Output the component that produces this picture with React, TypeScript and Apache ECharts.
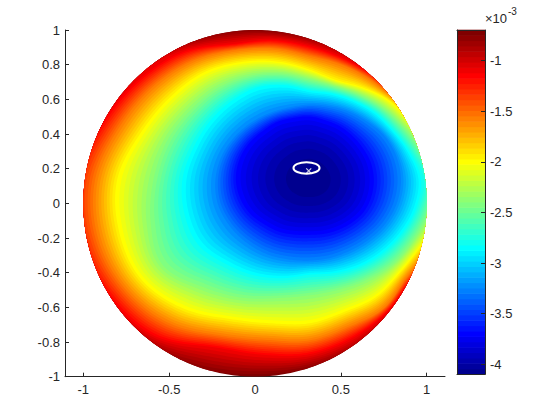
import React, { useEffect, useRef } from "react";
import * as echarts from "echarts";

// ---- axes / ticks ----
const xTicks = [-1, -0.5, 0, 0.5, 1];
const xRange = [-1.1067, 1.1067];
const yRange = [-1, 1];
const colorbarTicks = [-4, -3.5, -3, -2.5, -2, -1.5, -1];
const colorRange = [-4.1, -0.697]; // values in units of 1e-3
const bandCount = 64;

// ---- field (units of 1e-3) ----
const minPoint = [0.32, 0.14];
const minValue = -4.09;
// rays drawn out from the minimum point (degrees)
const rayAngles = [0, 15, 30, 45, 60, 75, 90, 105, 120, 135, 150, 165, 180, 195, 210, 225, 240, 255, 270, 285, 300, 315, 330, 345];
// contour levels traced along the rays
const contourLevels = [-3.68, -3.25, -2.83, -2.4, -1.98, -1.55, -1.12];
// distance from the minimum point where each level is crossed (null: not reached inside the disk)
const radiiLevelA = [0.37, 0.365, 0.355, 0.35, 0.35, 0.35, 0.36, 0.365, 0.38, 0.39, 0.41, 0.425, 0.43, 0.42, 0.4, 0.37, 0.35, 0.33, 0.32, 0.325, 0.335, 0.35, 0.365, 0.37];
const radiiLevelB = [0.53, 0.52, 0.5, 0.47, 0.45, 0.435, 0.43, 0.43, 0.445, 0.47, 0.5, 0.53, 0.55, 0.555, 0.54, 0.52, 0.5, 0.48, 0.47, 0.47, 0.475, 0.49, 0.51, 0.525];
const radiiLevelC = [0.645, 0.6, 0.56, 0.54, 0.52, 0.51, 0.51, 0.56, 0.61, 0.64, 0.67, 0.7, 0.74, 0.755, 0.75, 0.69, 0.64, 0.59, 0.55, 0.56, 0.58, 0.6, 0.62, 0.64];
const radiiLevelD = [null, null, 0.62, 0.59, 0.565, 0.555, 0.575, 0.63, 0.69, 0.75, 0.8, 0.86, 0.91, 0.96, 0.99, 0.88, 0.79, 0.71, 0.67, 0.66, 0.67, 0.69, 0.7, null];
const radiiLevelE = [null, null, null, 0.645, 0.61, 0.59, 0.63, 0.7, 0.78, 0.87, 0.94, 1.02, 1.12, 1.15, 1.14, 1.05, 0.93, 0.86, 0.83, 0.79, 0.78, 0.75, null, null];
const radiiLevelF = [null, null, null, null, 0.675, 0.685, 0.71, 0.78, 0.86, 0.965, 1.06, 1.15, 1.25, 1.28, 1.25, 1.17, 1.04, 0.96, 0.93, 0.88, 0.86, 0.8, null, null];
const radiiLevelG = [null, null, null, null, null, 0.725, 0.765, 0.83, 0.9, 1.04, 1.15, null, null, null, null, 1.28, 1.12, 1.05, 1.01, 0.95, 0.89, null, null, null];
// value where each ray meets the rim of the disk
const edgeValues = [-2.75, -2.5, -2.15, -1.7, -1.25, -1.0, -0.85, -0.75, -0.78, -0.95, -1.1, -1.15, -1.35, -1.32, -1.15, -0.95, -0.76, -0.7, -0.76, -0.92, -1.05, -1.3, -2.0, -2.5];

// ---- markers ----
const ellipseCenter = [0.3, 0.204];
const ellipseRadii = [0.076, 0.033];
const crossPoint = [0.313, 0.187];

const levelRadii = [radiiLevelA, radiiLevelB, radiiLevelC, radiiLevelD, radiiLevelE, radiiLevelF, radiiLevelG];

function jet(m: number): string[] {
  const n = Math.ceil(m / 4);
  const u: number[] = [];
  for (let i = 1; i <= n; i++) u.push(i / n);
  for (let i = 1; i <= n - 1; i++) u.push(1);
  for (let i = n; i >= 1; i--) u.push(i / n);
  const g0 = Math.ceil(n / 2) - (m % 4 === 1 ? 1 : 0);
  const J = Array.from({ length: m }, () => [0, 0, 0]);
  for (let k = 0; k < u.length; k++) {
    const gi = g0 + k + 1;
    const ri = gi + n;
    const bi = gi - n;
    if (gi >= 1 && gi <= m) J[gi - 1][1] = u[k];
    if (ri >= 1 && ri <= m) J[ri - 1][0] = u[k];
    if (bi >= 1 && bi <= m) J[bi - 1][2] = u[k];
  }
  return J.map((c) => `rgb(${Math.round(c[0] * 255)},${Math.round(c[1] * 255)},${Math.round(c[2] * 255)})`);
}

function boundaryDist(th: number): number {
  const ux = Math.cos(th), uy = Math.sin(th);
  const b = minPoint[0] * ux + minPoint[1] * uy;
  const c = minPoint[0] * minPoint[0] + minPoint[1] * minPoint[1] - 1;
  return -b + Math.sqrt(b * b - c);
}

// fraction of the way to the rim where level L is crossed on ray k
function rayFraction(k: number, L: number): number {
  const d = boundaryDist((rayAngles[k] * Math.PI) / 180);
  const kv: number[] = [minValue];
  const ks: number[] = [0];
  for (let i = 0; i < contourLevels.length; i++) {
    const r = levelRadii[i][k];
    if (r != null) {
      kv.push(contourLevels[i]);
      ks.push(Math.min((r as number) / d, 0.995));
    }
  }
  kv.push(edgeValues[k]);
  ks.push(1);
  if (L <= minValue) return 0;
  for (let i = 1; i < kv.length; i++) {
    if (L <= kv[i]) {
      const f = (L - kv[i - 1]) / (kv[i] - kv[i - 1]);
      if (i === 1) return ks[1] * Math.sqrt(f);
      return ks[i - 1] + f * (ks[i] - ks[i - 1]);
    }
  }
  const n = kv.length;
  let slope = (ks[n - 1] - ks[n - 2]) / (kv[n - 1] - kv[n - 2]);
  slope = Math.min(Math.max(slope, 0.05), 0.3);
  return 1 + (L - kv[n - 1]) * slope;
}

function levelPolygon(L: number, samples: number): number[][] {
  const nr = rayAngles.length;
  const step = 360 / nr;
  const prof = rayAngles.map((_, k) => rayFraction(k, L));
  const pts: number[][] = [];
  for (let s = 0; s < samples; s++) {
    const deg = (s * 360) / samples;
    const k1 = Math.floor(deg / step) % nr;
    const f = deg / step - Math.floor(deg / step);
    const p0 = prof[(k1 - 1 + nr) % nr], p1 = prof[k1], p2 = prof[(k1 + 1) % nr], p3 = prof[(k1 + 2) % nr];
    let q =
      0.5 *
      (2 * p1 + (-p0 + p2) * f + (2 * p0 - 5 * p1 + 4 * p2 - p3) * f * f + (-p0 + 3 * p1 - 3 * p2 + p3) * f * f * f);
    if (q > 1) q = 1;
    if (q < 0) q = 0;
    const th = (deg * Math.PI) / 180;
    const r = q * boundaryDist(th);
    pts.push([minPoint[0] + r * Math.cos(th), minPoint[1] + r * Math.sin(th)]);
  }
  return pts;
}

export default function App() {
  const ref = useRef<HTMLDivElement>(null);
  useEffect(() => {
    document.body.style.margin = "0";
    if (!ref.current) return;
    const chart = echarts.init(ref.current, null, { renderer: "svg" });
    const colors = jet(bandCount);
    const w = (colorRange[1] - colorRange[0]) / bandCount;
    const samples = 360;

    const fieldPolys: { pts: number[][]; color: string }[] = [];
    const disk: number[][] = [];
    for (let s = 0; s < samples; s++) {
      const th = (s * 2 * Math.PI) / samples;
      disk.push([Math.cos(th), Math.sin(th)]);
    }
    fieldPolys.push({ pts: disk, color: colors[bandCount - 1] });
    for (let j = bandCount - 2; j >= 0; j--) {
      const upper = colorRange[0] + (j + 1) * w;
      if (upper <= minValue) continue;
      fieldPolys.push({ pts: levelPolygon(upper, samples), color: colors[j] });
    }

    const barBands = colors.map((_, j) => [colorRange[0] + j * w, colorRange[0] + (j + 1) * w]);

    const axisColor = "#262626";
    const font = "'Liberation Sans', Arial, Helvetica, sans-serif";
    const fmt = (v: number) => String(Math.round(v * 10) / 10);
    const labelSize = 13;

    chart.setOption({
      animation: false,
      textStyle: { fontFamily: font, fontSize: labelSize },
      grid: [
        { left: 65, top: 30, width: 380, height: 346.7 },
        { left: 457, top: 30, width: 28, height: 344.3 },
      ],
      xAxis: [
        {
          gridIndex: 0,
          type: "value",
          min: xRange[0],
          max: xRange[1],
          axisLine: { show: true, onZero: false, lineStyle: { color: axisColor, width: 1 } },
          axisTick: { show: true, inside: true, length: 4, customValues: xTicks, lineStyle: { color: axisColor } },
          axisLabel: { customValues: xTicks, color: axisColor, fontSize: labelSize, fontFamily: font, margin: 6, formatter: fmt },
          splitLine: { show: false },
        },
        {
          gridIndex: 1, type: "value", min: 0, max: 1, position: "bottom", z: 10,
          axisLine: { show: true, onZero: false, lineStyle: { color: axisColor } },
          axisTick: { show: false }, axisLabel: { show: false }, splitLine: { show: false },
        },
        {
          gridIndex: 1, type: "value", min: 0, max: 1, position: "top", z: 10,
          axisLine: { show: true, onZero: false, lineStyle: { color: axisColor } },
          axisTick: { show: false }, axisLabel: { show: false }, splitLine: { show: false },
        },
      ],
      yAxis: [
        {
          gridIndex: 0,
          type: "value",
          min: yRange[0],
          max: yRange[1],
          interval: 0.2,
          axisLine: { show: true, onZero: false, lineStyle: { color: axisColor, width: 1 } },
          axisTick: { show: true, inside: true, length: 4, lineStyle: { color: axisColor } },
          axisLabel: { color: axisColor, fontSize: labelSize, fontFamily: font, margin: 5, formatter: fmt },
          splitLine: { show: false },
        },
        {
          gridIndex: 1,
          type: "value",
          min: colorRange[0],
          max: colorRange[1],
          position: "right",
          z: 10,
          axisLine: { show: true, onZero: false, lineStyle: { color: axisColor } },
          axisTick: { show: true, inside: true, length: 4, customValues: colorbarTicks, lineStyle: { color: axisColor } },
          axisLabel: { customValues: colorbarTicks, color: axisColor, fontSize: labelSize, fontFamily: font, margin: 5, formatter: fmt },
          splitLine: { show: false },
        },
        {
          gridIndex: 1, type: "value", min: colorRange[0], max: colorRange[1], position: "left", z: 10,
          axisLine: { show: true, onZero: false, lineStyle: { color: axisColor } },
          axisTick: { show: false }, axisLabel: { show: false }, splitLine: { show: false },
        },
      ],
      graphic: [
        { type: "text", left: 485, top: 12, silent: true, style: { text: "×10", fontSize: 13, fontFamily: font, fill: axisColor } },
        { type: "text", left: 508, top: 6, silent: true, style: { text: "-3", fontSize: 10, fontFamily: font, fill: axisColor } },
      ],
      series: [
        {
          type: "custom",
          name: "field",
          xAxisIndex: 0,
          yAxisIndex: 0,
          silent: true,
          clip: true,
          z: 2,
          data: fieldPolys.map((_, i) => [i]),
          renderItem: (params: any, api: any) => {
            const poly = fieldPolys[params.dataIndex];
            return {
              type: "polygon",
              shape: { points: poly.pts.map((p) => api.coord(p)) },
              style: { fill: poly.color, stroke: null },
            };
          },
        },
        {
          type: "custom",
          name: "ellipse",
          xAxisIndex: 0,
          yAxisIndex: 0,
          silent: true,
          z: 4,
          data: [[ellipseCenter[0], ellipseCenter[1], ellipseRadii[0], ellipseRadii[1]]],
          renderItem: (params: any, api: any) => {
            const c = api.coord([api.value(0), api.value(1)]);
            const s = api.size([api.value(2), api.value(3)]);
            return {
              type: "ellipse",
              shape: { cx: c[0], cy: c[1], rx: s[0], ry: s[1] },
              style: { fill: "none", stroke: "#ffffff", lineWidth: 2 },
            };
          },
        },
        {
          type: "scatter",
          name: "cross",
          xAxisIndex: 0,
          yAxisIndex: 0,
          silent: true,
          z: 5,
          symbol: "path://M0,0L10,10M10,0L0,10",
          symbolSize: 5,
          itemStyle: { color: "rgba(0,0,0,0)", borderColor: "#ffffff", borderWidth: 1.2 },
          data: [crossPoint],
        },
        {
          type: "custom",
          name: "colorbar",
          xAxisIndex: 1,
          yAxisIndex: 1,
          silent: true,
          z: 2,
          data: barBands,
          renderItem: (params: any, api: any) => {
            const p1 = api.coord([0, api.value(0)]);
            const p2 = api.coord([1, api.value(1)]);
            return {
              type: "rect",
              shape: { x: p1[0], y: p2[1] - 0.3, width: p2[0] - p1[0], height: p1[1] - p2[1] + 0.6 },
              style: { fill: colors[params.dataIndex] },
            };
          },
        },
      ],
    });
    return () => chart.dispose();
  }, []);
  return <div ref={ref} style={{ width: 560, height: 420 }} />;
}
